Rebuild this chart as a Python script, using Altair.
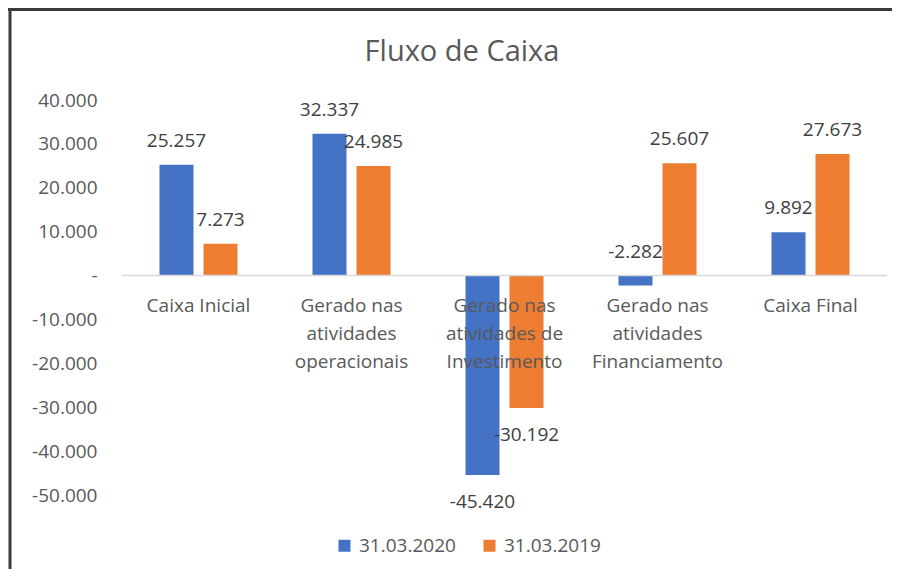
import altair as alt
import pandas as pd

TITLE = "Fluxo de Caixa"
categories = [
    "Caixa Inicial",
    "Gerado nas atividades operacionais",
    "Gerado nas atividades de Investimento",
    "Gerado nas atividades Financiamento",
    "Caixa Final",
]
category_labels = [
    "Caixa Inicial",
    "Gerado nas\natividades\noperacionais",
    "Gerado nas\natividades de\nInvestimento",
    "Gerado nas\natividades\nFinanciamento",
    "Caixa Final",
]
series = ["31.03.2020", "31.03.2019"]
values_2020 = [25257, 32337, -45420, -2282, 9892]
values_2019 = [7273, 24985, -30192, 25607, 27673]
colors = ["#4472C4", "#ED7D31"]
y_ticks = [-50000, -40000, -30000, -20000, -10000, 0, 10000, 20000, 30000, 40000]

FONT = "Open Sans"


def fmt(v):
    s = f"{abs(v):,}".replace(",", ".")
    return ("-" if v < 0 else "") + s


rows = []
for c, a, b in zip(categories, values_2020, values_2019):
    rows.append({"category": c, "series": series[0], "value": a, "label": fmt(a)})
    rows.append({"category": c, "series": series[1], "value": b, "label": fmt(b)})
df = pd.DataFrame(rows)
cat_df = pd.DataFrame({"category": categories, "text": category_labels})
title_df = pd.DataFrame({"t": [TITLE]})

x_enc = alt.X(
    "category:N",
    sort=categories,
    scale=alt.Scale(paddingInner=0.49, paddingOuter=0.245),
    axis=None,
)
xoff_enc = alt.XOffset("series:N", sort=series, scale=alt.Scale(paddingInner=0.227, paddingOuter=0))
y_scale = alt.Scale(domain=[-50000, 40000], nice=False, zero=True)

y_label_expr = (
    "datum.value == 0 ? '-\u00a0\u00a0' : "
    "(datum.value < 0 ? '-' : '') + replace(format(abs(datum.value), ',.0f'), ',', '.')"
)

base = alt.Chart(df)

bars = base.mark_bar().encode(
    x=x_enc,
    xOffset=xoff_enc,
    y=alt.Y(
        "value:Q",
        scale=y_scale,
        axis=alt.Axis(
            values=y_ticks,
            labelExpr=y_label_expr,
            labelFont=FONT,
            labelFontSize=19,
            labelColor="#595959",
            domain=False,
            ticks=False,
            grid=False,
            labelPadding=25,
            title=None,
        ),
    ),
    color=alt.Color(
        "series:N",
        sort=series,
        scale=alt.Scale(domain=series, range=colors),
        legend=alt.Legend(
            title=None,
            orient="none",
            direction="horizontal",
            legendX=213,
            legendY=436,
            symbolType="square",
            symbolSize=144,
            symbolStrokeWidth=0,
            labelFont=FONT,
            labelFontSize=19,
            labelColor="#595959",
            labelOffset=5,
            columnPadding=24,
            padding=0,
        ),
    ),
)

zero_line = alt.Chart(pd.DataFrame({"z": [0]})).mark_rule(color="#D9D9D9", strokeWidth=1.5).encode(
    y=alt.Y("z:Q", scale=y_scale)
)

labels_above = (
    base.transform_filter("datum.value > -5000")
    .transform_calculate(anchor="max(datum.value, 0)")
    .mark_text(font=FONT, fontSize=19, color="#404040", baseline="alphabetic", dy=-18)
    .encode(x=x_enc, xOffset=xoff_enc, y=alt.Y("anchor:Q", scale=y_scale), text="label:N")
)

labels_below = (
    base.transform_filter("datum.value <= -5000")
    .mark_text(font=FONT, fontSize=19, color="#404040", baseline="alphabetic", dy=33)
    .encode(x=x_enc, xOffset=xoff_enc, y=alt.Y("value:Q", scale=y_scale), text="label:N")
)

cat_text = (
    alt.Chart(cat_df)
    .mark_text(
        font=FONT,
        fontSize=19,
        color="#595959",
        baseline="alphabetic",
        align="center",
        lineBreak="\n",
        lineHeight=28,
        dy=36,
    )
    .encode(x=x_enc, y=alt.datum(0, scale=y_scale) if False else alt.YDatum(0), text="text:N")
)

title_text = (
    alt.Chart(title_df)
    .mark_text(font=FONT, fontSize=29, color="#595959", baseline="alphabetic", align="center")
    .encode(x=alt.value(340), y=alt.value(-39), text="t:N")
)

border_top = alt.Chart(title_df).mark_rule(color="#3a3a3a", strokeWidth=3).encode(
    x=alt.value(-114), x2=alt.value(770), y=alt.value(-90.5)
)
border_left = alt.Chart(title_df).mark_rule(color="#3a3a3a", strokeWidth=3).encode(
    x=alt.value(-112), y=alt.value(-92), y2=alt.value(469)
)

chart = (
    alt.layer(bars, zero_line, labels_above, labels_below, cat_text, title_text, border_top, border_left)
    .properties(
        width=765,
        height=395,
        autosize=alt.AutoSizeParams(type="none"),
        padding={"left": 114, "top": 92, "right": 5, "bottom": 74},
        background="white",
    )
    .configure_view(stroke=None)
)

chart.save("out.html", embed_options={"renderer": "svg", "actions": False})
